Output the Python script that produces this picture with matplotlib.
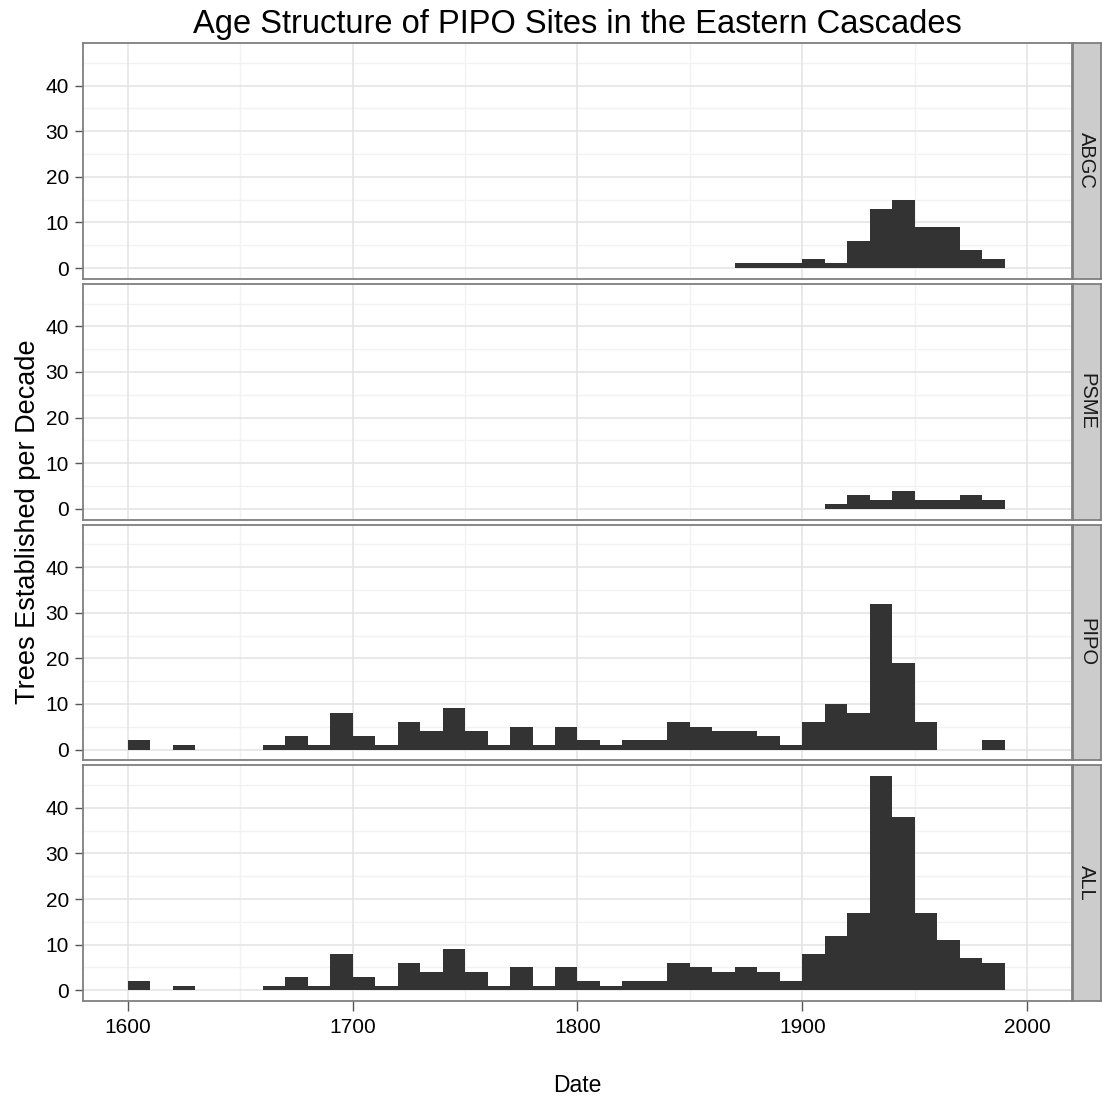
import matplotlib
matplotlib.use("Agg")
import matplotlib.pyplot as plt
import numpy as np

plt.rcParams['font.family'] = ['Liberation Sans', 'DejaVu Sans']

# Decade bins (left edges)
decades = list(range(1600, 1990, 10))

# Trees established per decade
abgc = [0, 0, 0, 0, 0, 0, 0, 0, 0, 0,   # 1600-1690
        0, 0, 0, 0, 0, 0, 0, 0, 0, 0,   # 1700-1790
        0, 0, 0, 0, 0, 0, 0, 1, 1, 1,   # 1800-1890
        2, 1, 6, 13, 15, 9, 9, 4, 2]    # 1900-1980
psme = [0, 0, 0, 0, 0, 0, 0, 0, 0, 0,
        0, 0, 0, 0, 0, 0, 0, 0, 0, 0,
        0, 0, 0, 0, 0, 0, 0, 0, 0, 0,
        0, 1, 3, 2, 4, 2, 2, 3, 2]
pipo = [2, 0, 1, 0, 0, 0, 1, 3, 1, 8,
        3, 1, 6, 4, 9, 4, 1, 5, 1, 5,
        2, 1, 2, 2, 6, 5, 4, 4, 3, 1,
        6, 10, 8, 32, 19, 6, 0, 0, 2]
all_ = [2, 0, 1, 0, 0, 0, 1, 3, 1, 8,
        3, 1, 6, 4, 9, 4, 1, 5, 1, 5,
        2, 1, 2, 2, 6, 5, 4, 5, 4, 2,
        8, 12, 17, 47, 38, 17, 11, 7, 6]

facet_labels = ["ABGC", "PSME", "PIPO", "ALL"]
series = [abgc, psme, pipo, all_]

x_ticks = [1600, 1700, 1800, 1900, 2000]
x_minor = [1650, 1750, 1850, 1950]
y_ticks = [0, 10, 20, 30, 40]
y_minor = [5, 15, 25, 35, 45]

title = "Age Structure of PIPO Sites in the Eastern Cascades"
xlabel = "Date"
ylabel = "Trees Established per Decade"

W, H = 1102, 1104
fig = plt.figure(figsize=(W / 100, H / 100), dpi=100)

left_px, right_px = 83, 1072
top_px, bottom_px = 43, 1001
gap = 5
ph = (bottom_px - top_px - 3 * gap) / 4
strip_right = 1101

border_col = "#7f7f7f"
for i, (lab, vals) in enumerate(zip(facet_labels, series)):
    t = top_px + i * (ph + gap)
    ax = fig.add_axes([left_px / W, 1 - (t + ph) / H, (right_px - left_px) / W, ph / H])
    ax.set_xlim(1580, 2020)
    ax.set_ylim(-2.35, 49.35)
    for xm in x_minor:
        ax.axvline(xm, color="#f2f2f2", lw=1.0, zorder=0)
    for ym in y_minor:
        ax.axhline(ym, color="#f2f2f2", lw=1.0, zorder=0)
    for xm in x_ticks:
        ax.axvline(xm, color="#e3e3e3", lw=1.1, zorder=0.5)
    for ym in y_ticks:
        ax.axhline(ym, color="#e3e3e3", lw=1.1, zorder=0.5)
    ax.bar(decades, vals, width=10, align="edge", color="#333333", linewidth=0, zorder=2)
    ax.set_yticks(y_ticks)
    ax.set_yticklabels([str(v) for v in y_ticks], fontsize=15)
    ax.tick_params(axis="y", length=6, width=1, color="#555555", pad=4)
    if i == 3:
        ax.set_xticks(x_ticks)
        ax.set_xticklabels([str(v) for v in x_ticks], fontsize=15)
        ax.tick_params(axis="x", length=7, width=1, color="#555555", pad=5)
    else:
        ax.set_xticks([])
    for s in ax.spines.values():
        s.set_color(border_col)
        s.set_linewidth(1.3)
    # strip
    sax = fig.add_axes([(right_px + 0.5) / W, 1 - (t + ph) / H, (strip_right - right_px - 0.5) / W, ph / H])
    sax.set_facecolor("#cccccc")
    sax.set_xticks([])
    sax.set_yticks([])
    for s in sax.spines.values():
        s.set_color(border_col)
        s.set_linewidth(1.3)
    sax.text(0.5, 0.5, lab, rotation=-90, ha="center", va="center",
             fontsize=14.5, transform=sax.transAxes, color="#1a1a1a")

cx = (left_px + right_px) / 2 / W
fig.text(cx, 1 - 25 / H, title, ha="center", va="center", fontsize=23.5)
fig.text(cx, 1 - 1085 / H, xlabel, ha="center", va="center", fontsize=16.5)
fig.text(28 / W, 1 - ((top_px + bottom_px) / 2) / H, ylabel, rotation=90,
         ha="center", va="center", fontsize=19.5)

fig.savefig("out.png", dpi=100)
